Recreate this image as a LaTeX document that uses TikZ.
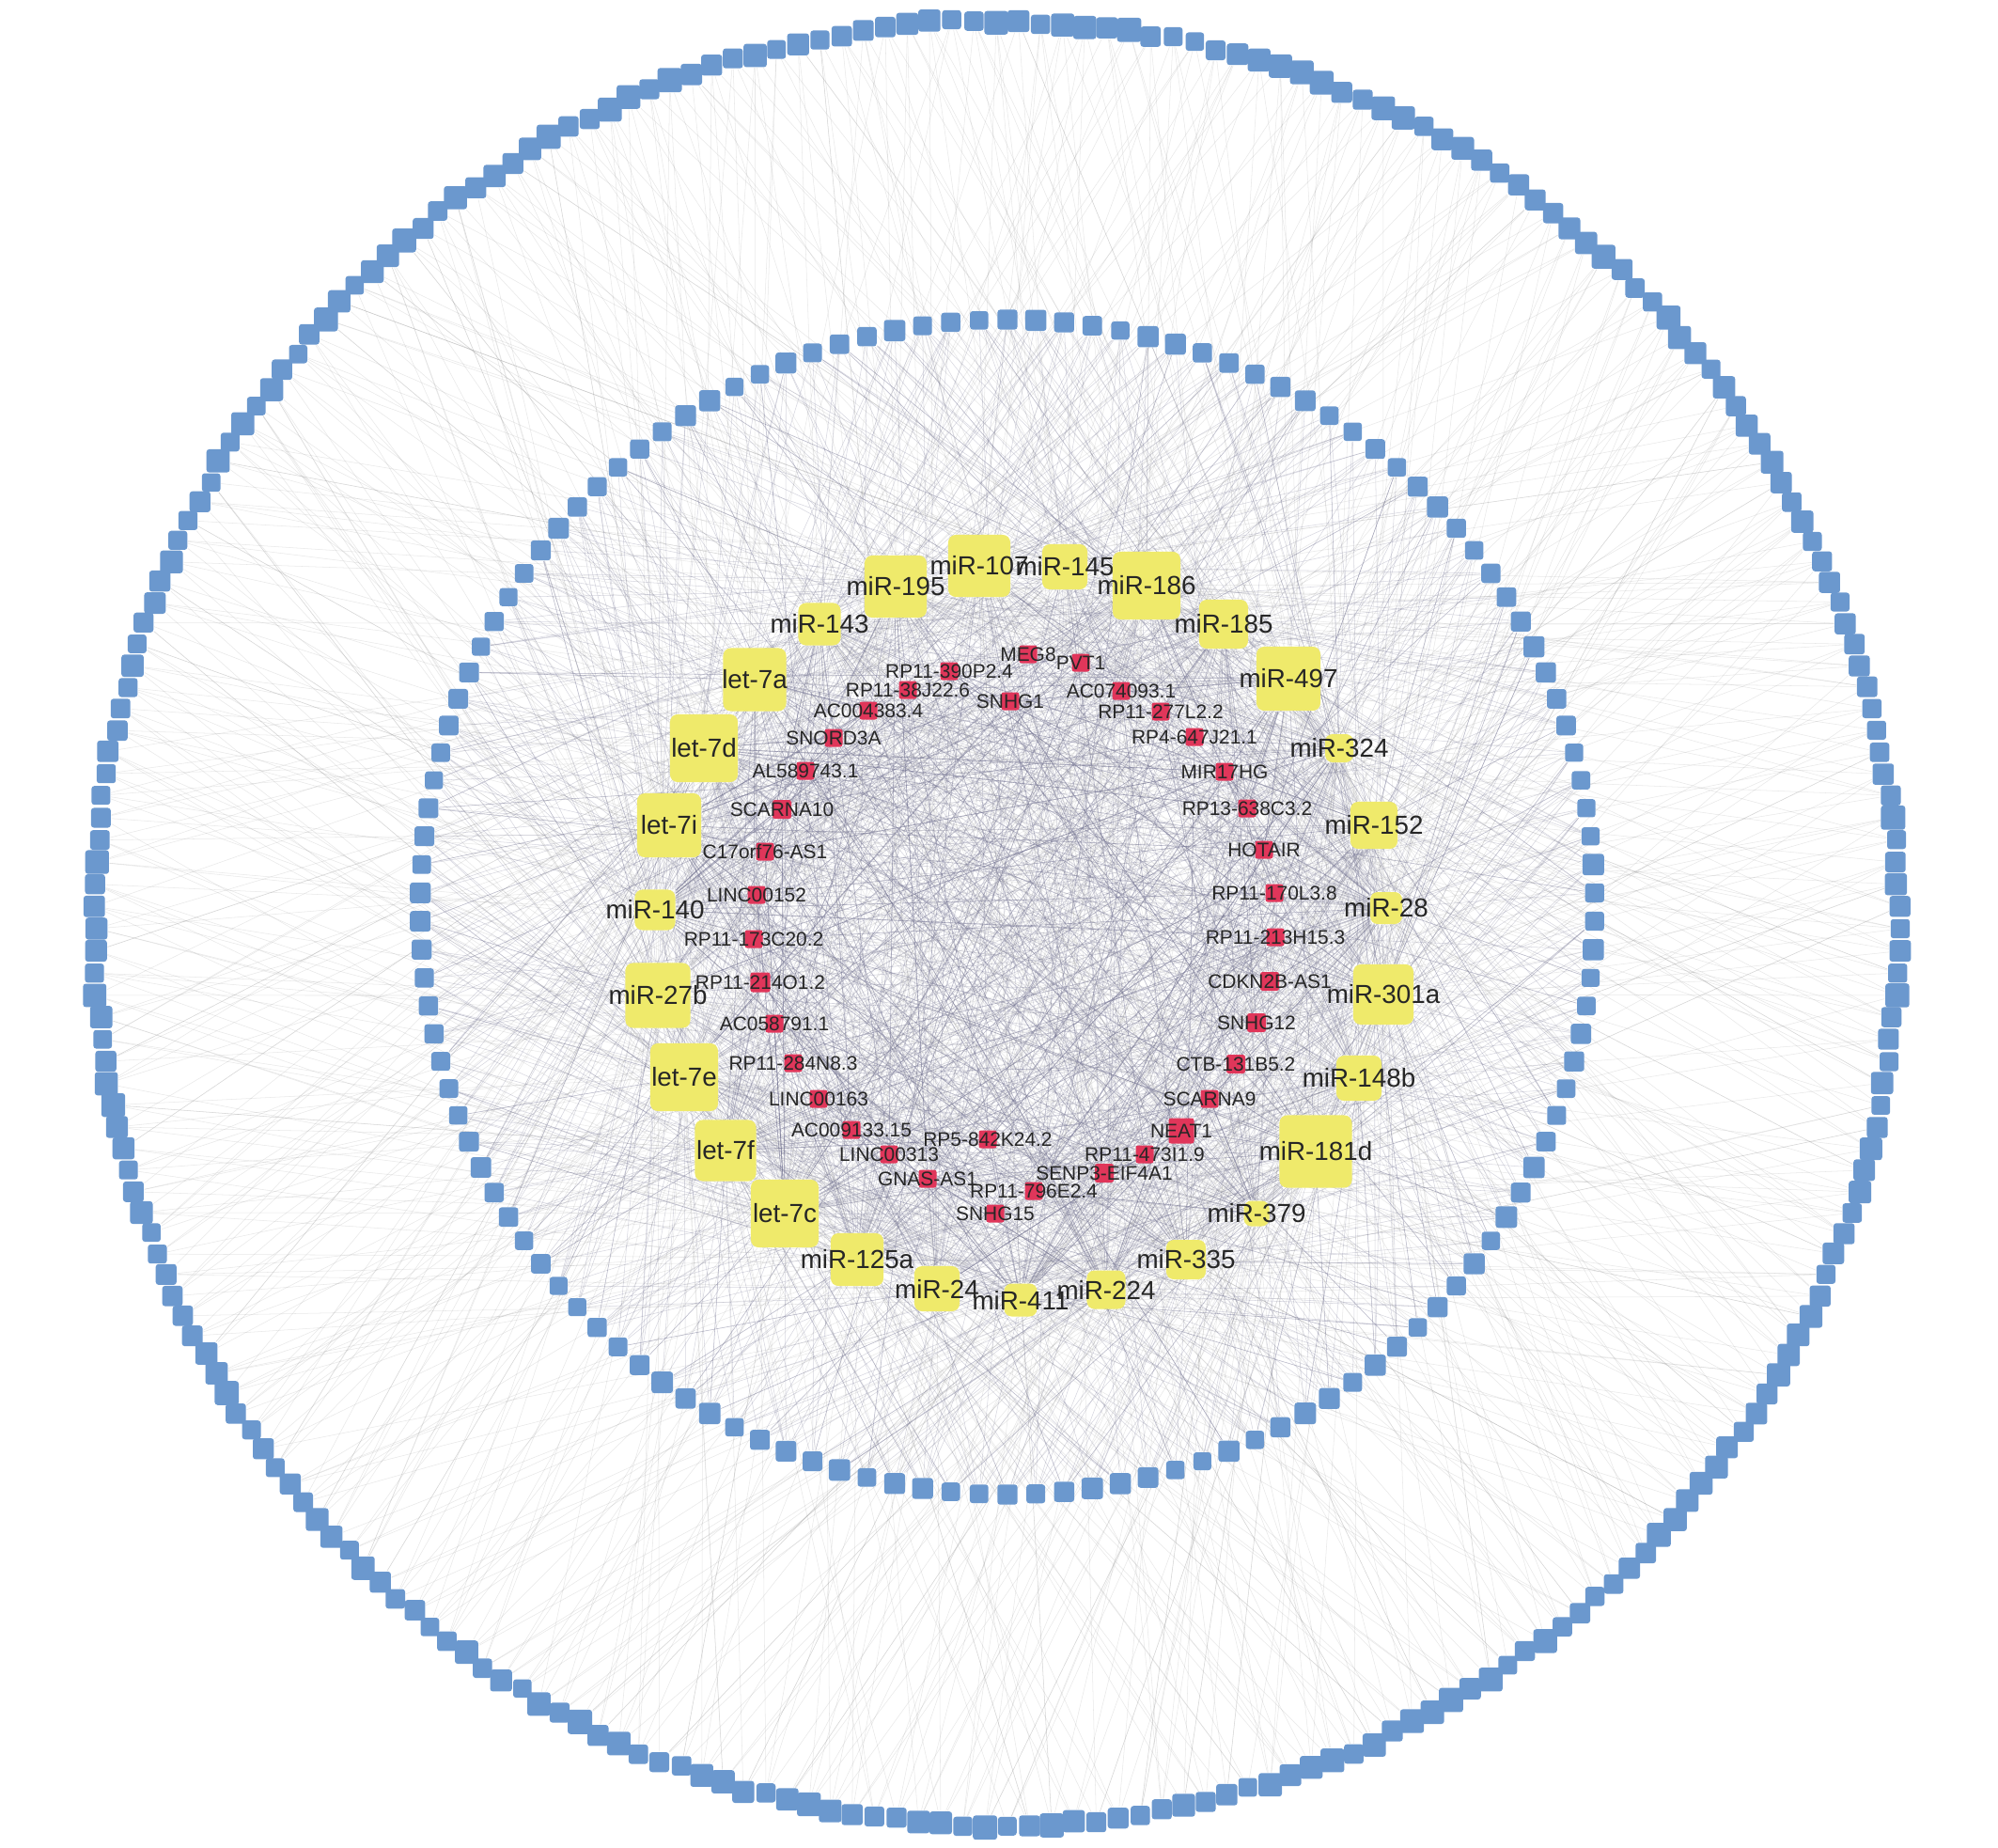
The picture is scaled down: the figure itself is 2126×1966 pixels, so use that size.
\documentclass[tikz,border=0pt]{standalone}
\usepackage{fontspec}
\setmainfont{Liberation Sans}
\pgfdeclarelayer{back}
\pgfdeclarelayer{bg}
\pgfsetlayers{back,bg,main}
\definecolor{ycol}{RGB}{239,234,107}
\definecolor{rcol}{RGB}{224,54,90}
\definecolor{bcol}{RGB}{107,152,206}
\definecolor{tcol}{RGB}{38,38,38}
\definecolor{ecol}{RGB}{120,120,150}
\definecolor{ocol}{RGB}{150,150,150}
\begin{document}
\begin{tikzpicture}[x=0.01cm,y=-0.01cm,
 ynode/.style={fill=ycol,rounded corners=0.08cm,minimum size=#1,inner sep=0pt,draw=none},
 rnode/.style={fill=rcol,rounded corners=0.025cm,minimum size=#1,inner sep=0pt,draw=none},
 bnode/.style={fill=bcol,rounded corners=0.03cm,minimum size=#1,inner sep=0pt,draw=none},
 ylab/.style={font=\fontsize{7.9}{8}\selectfont,text=tcol,inner sep=0pt},
 rlab/.style={font=\fontsize{5.95}{6}\selectfont,text=tcol,inner sep=0pt},
 oedge/.style={draw=ocol,line width=0.15pt,opacity=0.22},
 medge/.style={draw=ecol,line width=0.15pt,opacity=0.3},
 iedge/.style={draw=ecol,line width=0.18pt,opacity=0.3}]
\begin{pgfonlayer}{back}
\fill[white] (0,0) rectangle (2126,1966);
\end{pgfonlayer}
\useasboundingbox (0,0) rectangle (2126,1966);
\pgfmathsetseed{7}
% outer ring
\foreach \k in {1,...,255} {
  \pgfmathsetmacro\a{90+(\k-1)*(360/255)}
  \pgfmathsetmacro\sz{0.195+0.065*rnd}
  \pgfmathsetmacro\rr{960+6*(rnd-0.5)}
  \node[bnode=\sz cm] (o\k) at ({1060+\rr*cos(\a)},{982-\rr*sin(\a)}) {};
}
% middle ring
\foreach \k in {1,...,130} {
  \pgfmathsetmacro\a{90+(\k-1)*(360/130)}
  \pgfmathsetmacro\sz{0.19+0.04*rnd}
  \node[bnode=\sz cm] (m\k) at ({1072+625*cos(\a)},{965-625*sin(\a)}) {};
}
% miRNAs
\foreach \n/\x/\y/\s/\lab in {
 1/1042/602/0.66/miR-107, 2/1133/603/0.48/miR-145, 3/1220/623/0.72/miR-186,
 4/1302/664/0.52/miR-185, 5/1371/722/0.68/miR-497, 6/1425/796/0.30/miR-324,
 7/1462/878/0.50/miR-152, 8/1475/966/0.34/miR-28, 9/1472/1058/0.64/miR-301a,
 10/1446/1147/0.48/miR-148b, 11/1400/1225/0.77/miR-181d, 12/1337/1291/0.27/miR-379,
 13/1262/1340/0.42/miR-335, 14/1177/1372/0.41/miR-224, 15/1086/1383/0.35/miR-411,
 16/997/1371/0.48/miR-24, 17/912/1340/0.56/miR-125a, 18/835/1291/0.72/let-7c,
 19/772/1224/0.65/let-7f, 20/728/1146/0.72/let-7e, 21/700/1059/0.69/miR-27b,
 22/697/968/0.43/miR-140, 23/712/878/0.68/let-7i, 24/749/796/0.72/let-7d,
 25/803/723/0.67/let-7a, 26/872/664/0.45/miR-143, 27/953/624/0.66/miR-195} {
  \node[ynode=\s cm,label={[ylab]center:\lab}] (y\n) at (\x,\y) {};
}
% lncRNAs
\foreach \n/\x/\y/\s/\lab in {
 1/1094/696/0.19/MEG8, 2/1150/705/0.19/PVT1, 3/1193/735/0.19/AC074093.1,
 4/1235/757/0.19/RP11-277L2.2, 5/1271/784/0.19/RP4-647J21.1, 6/1303/821/0.19/MIR17HG,
 7/1327/860/0.19/RP13-638C3.2, 8/1345/904/0.19/HOTAIR, 9/1356/950/0.19/RP11-170L3.8,
 10/1357/997/0.19/RP11-213H15.3, 11/1351/1044/0.20/CDKN2B-AS1, 12/1337/1088/0.20/SNHG12,
 13/1315/1132/0.20/CTB-131B5.2, 14/1287/1169/0.19/SCARNA9, 15/1257/1203/0.27/NEAT1,
 16/1218/1228/0.19/RP11-473I1.9, 17/1175/1248/0.20/SENP3-EIF4A1, 18/1100/1267/0.19/RP11-796E2.4,
 19/1059/1291/0.19/SNHG15, 20/1051/1212/0.19/RP5-842K24.2, 21/987/1254/0.19/GNAS-AS1,
 22/946/1228/0.19/LINC00313, 23/906/1202/0.19/AC009133.15, 24/871/1169/0.19/LINC00163,
 25/844/1131/0.19/RP11-284N8.3, 26/824/1089/0.19/AC058791.1, 27/809/1045/0.21/RP11-214O1.2,
 28/802/999/0.19/RP11-173C20.2, 29/805/952/0.19/LINC00152, 30/814/906/0.19/C17orf76-AS1,
 31/832/861/0.20/SCARNA10, 32/857/820/0.19/AL589743.1, 33/887/785/0.19/SNORD3A,
 34/924/756/0.19/AC004383.4, 35/966/734/0.19/RP11-38J22.6, 36/1010/714/0.19/RP11-390P2.4,
 37/1075/746/0.19/SNHG1} {
  \node[rnode=\s cm,label={[rlab]center:\lab}] (r\n) at (\x,\y) {};
}
% edges
\begin{pgfonlayer}{bg}
\foreach \k in {1,...,255} {
  \foreach \q in {1,...,4} {
    \pgfmathtruncatemacro\j{random(1,27)}
    \draw[oedge] (o\k) -- (y\j);
  }
}
\foreach \k in {1,...,130} {
  \foreach \q in {1,...,7} {
    \pgfmathtruncatemacro\j{random(1,27)}
    \draw[medge] (m\k) -- (y\j);
  }
}
\foreach \k in {1,...,37} {
  \foreach \q in {1,...,18} {
    \pgfmathtruncatemacro\j{random(1,27)}
    \draw[iedge] (r\k) -- (y\j);
  }
}
\end{pgfonlayer}
\end{tikzpicture}
\end{document}
